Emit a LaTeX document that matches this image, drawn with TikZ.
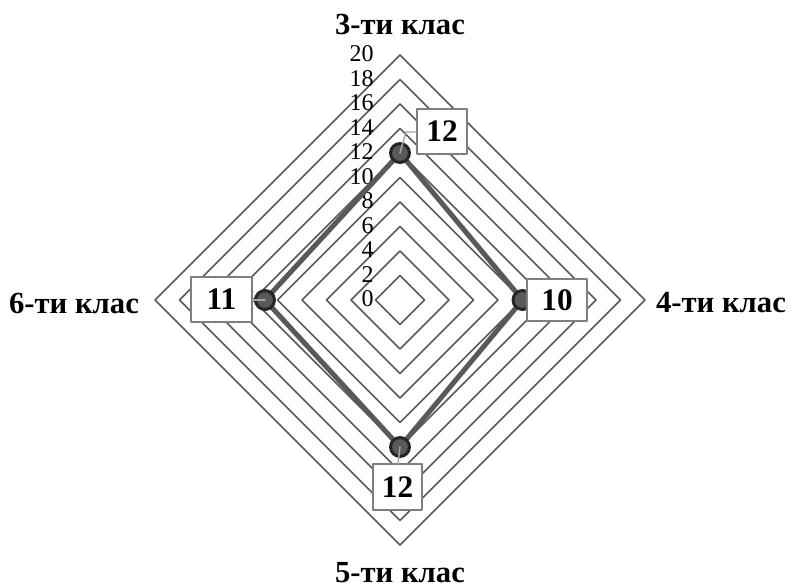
\documentclass[tikz,border=0pt]{standalone}
\usepackage{fontspec}
\setmainfont{Liberation Serif}
\definecolor{gline}{HTML}{595959}
\definecolor{gdark}{HTML}{262626}
\definecolor{gbox}{HTML}{7F7F7F}
\definecolor{glead}{HTML}{A6A6A6}
\begin{document}
\begin{tikzpicture}[x=0.75pt,y=-0.75pt,line join=round,line cap=round,
	gridline/.style={gline,line width=1.25pt},
	dataline/.style={gline,line width=3.75pt},
	dot/.style={draw=gdark,fill=gline,line width=2.25pt},
	lead/.style={glead,line width=1.1pt},
	valbox/.style={draw=gbox,fill=white,line width=1.1pt,inner sep=0pt,font=\fontsize{23.5}{23.5}\selectfont\bfseries},
	catlab/.style={font=\fontsize{23}{23}\selectfont\bfseries,inner sep=0pt,anchor=base},
	axlab/.style={font=\fontsize{18}{18}\selectfont,inner sep=0pt,anchor=east}]
	\useasboundingbox (0,0) rectangle (794,587);
	\path
	(400,300)coordinate(O)
	(400,153)coordinate(T)
	(522.5,300)coordinate(R)
	(400,447)coordinate(B)
	(265,300)coordinate(L)
	(406,132)coordinate(kT)
	(398,464)coordinate(kB)
	;
	% grid
	\foreach \v in {2,4,...,20}
	\draw[gridline] (400,{300-12.25*\v})--({400+12.25*\v},300)--(400,{300+12.25*\v})--({400-12.25*\v},300)--cycle;
	\foreach \v in {0,2,...,20} \node[axlab] at (374,{299-12.25*\v}) {\v};
	% data
	\draw[dataline] (T)--(R)--(B)--(L)--cycle;
	\foreach \p in {T,R,B,L} \draw[dot] (\p) circle(7.1pt);
	\node[valbox,minimum width=37.5pt,minimum height=33.75pt] (nT) at (442,131.5) {12};
	\node[valbox,minimum width=45pt,minimum height=31.5pt] (nR) at (557,300) {10};
	\node[valbox,minimum width=36.75pt,minimum height=34.5pt] (nB) at (397.5,487) {12};
	\node[valbox,minimum width=45.75pt,minimum height=33.75pt] (nL) at (221.5,299.5) {11};
	\draw[lead] (T)--(kT)--(nT.west|-kT);
	\draw[lead] (B)--(kB)--(nB.north);
	\draw[lead] (L)--(nL.east|-L);
	% labels
	\node[catlab] (cT) at (400,34) {3-ти клас};
	\node[catlab] (cR) at (721,312) {4-ти клас};
	\node[catlab] (cB) at (400,582) {5-ти клас};
	\node[catlab] (cL) at (74,313) {6-ти клас};
\end{tikzpicture}
\end{document}
